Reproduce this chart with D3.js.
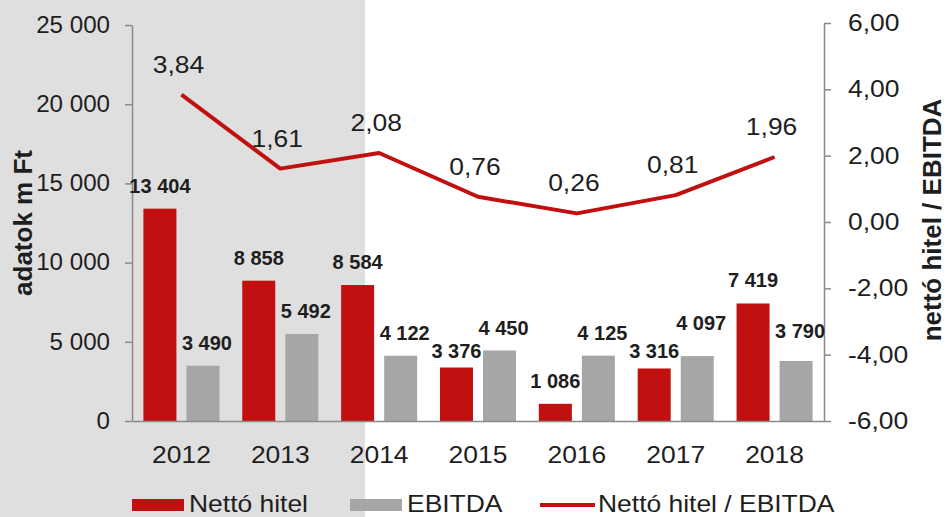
<!DOCTYPE html>
<html>
<head>
<meta charset="utf-8">
<script src="https://cdn.jsdelivr.net/npm/d3@7"></script>
<style>
  body { margin: 0; background: #ffffff; }
  #wrapper { width: 948px; height: 517px; }
  text { font-family: "Liberation Sans", Arial, sans-serif; fill: #1e1e1e; }
</style>
</head>
<body>
<div id="wrapper"></div>
<script>
// data
const years = ["2012", "2013", "2014", "2015", "2016", "2017", "2018"];
const nettoHitel = [13404, 8858, 8584, 3376, 1086, 3316, 7419];
const ebitda = [3490, 5492, 4122, 4450, 4125, 4097, 3790];
const hitelPerEbitda = [3.84, 1.61, 2.08, 0.76, 0.26, 0.81, 1.96];
const leftTicks = [0, 5000, 10000, 15000, 20000, 25000];
const rightTicks = [-6, -4, -2, 0, 2, 4, 6];
const seriesNames = ["Nettó hitel", "EBITDA", "Nettó hitel / EBITDA"];

// small manual nudges of the bar labels, as in the source picture (px)
const redLabelNudge = [0, 0, 0, 6, 0, 6, 0];
const grayLabelNudge = [0, 0, 0, 0, 0, -10, -7];

function drawChart() {

  // 1. formats
  const hu = d3.formatLocale({
    decimal: ",",
    thousands: " ",
    grouping: [3],
    currency: ["", " Ft"],
    minus: "-"
  });
  const fmtThousands = hu.format(",");
  const fmtRatio = hu.format(".2f");

  const redColor = "#c0100f";
  const grayColor = "#a6a6a6";
  const axisColor = "#8a8a8a";
  const stretch = 1.15;

  // 2. dimensions
  let dimensions = {
    width: 948,
    height: 517,
    margin: { top: 25, right: 124, bottom: 96, left: 132 },
  };
  dimensions.boundedWidth = dimensions.width
    - dimensions.margin.left
    - dimensions.margin.right;
  dimensions.boundedHeight = dimensions.height
    - dimensions.margin.top
    - dimensions.margin.bottom;

  // 3. canvas
  const wrapper = d3.select("#wrapper")
    .append("svg")
      .attr("width", dimensions.width)
      .attr("height", dimensions.height);

  // grey panel on the left side
  wrapper.append("rect")
      .attr("x", 0)
      .attr("y", 0)
      .attr("width", 365)
      .attr("height", dimensions.height)
      .attr("fill", "#dfdfdf");

  const bounds = wrapper.append("g")
      .attr("transform", `translate(${dimensions.margin.left},${dimensions.margin.top})`);

  // 4. scales
  const xScale = d3.scaleBand()
    .domain(years)
    .range([0, dimensions.boundedWidth]);

  const subScale = d3.scaleBand()
    .domain(["netto", "ebitda"])
    .range([0, xScale.bandwidth()])
    .paddingInner(0.233)
    .paddingOuter(0.265);

  const yLeft = d3.scaleLinear()
    .domain([0, 25000])
    .range([dimensions.boundedHeight, 0]);

  const yRight = d3.scaleLinear()
    .domain([-6, 6])
    .range([dimensions.boundedHeight, -2]);

  const stretchText = (sel, sx) => sel.each(function () {
    const t = d3.select(this);
    const x = +t.attr("x") || 0;
    const y = +t.attr("y") || 0;
    t.attr("x", 0).attr("y", 0)
      .attr("transform", `translate(${x},${y}) scale(${sx},1)`);
  });

  // 5. bars
  const rows = years.map((year, i) => ({
    year, netto: nettoHitel[i], ebitda: ebitda[i], ratio: hitelPerEbitda[i], i
  }));

  bounds.append("g").selectAll("rect")
    .data(rows)
    .join("rect")
      .attr("x", d => xScale(d.year) + subScale("netto"))
      .attr("y", d => yLeft(d.netto))
      .attr("width", subScale.bandwidth())
      .attr("height", d => yLeft(0) - yLeft(d.netto))
      .attr("fill", redColor);

  bounds.append("g").selectAll("rect")
    .data(rows)
    .join("rect")
      .attr("x", d => xScale(d.year) + subScale("ebitda"))
      .attr("y", d => yLeft(d.ebitda))
      .attr("width", subScale.bandwidth())
      .attr("height", d => yLeft(0) - yLeft(d.ebitda))
      .attr("fill", grayColor);

  // 6. axes
  const yAxisLeft = bounds.append("g")
    .call(d3.axisLeft(yLeft)
      .tickValues(leftTicks)
      .tickSize(7)
      .tickSizeOuter(0)
      .tickPadding(15)
      .tickFormat(fmtThousands));

  const yAxisRight = bounds.append("g")
      .attr("transform", `translate(${dimensions.boundedWidth},0)`)
    .call(d3.axisRight(yRight)
      .tickValues(rightTicks)
      .tickSize(7)
      .tickSizeOuter(0)
      .tickPadding(17)
      .tickFormat(fmtRatio));

  const xAxis = bounds.append("g")
      .attr("transform", `translate(0,${dimensions.boundedHeight})`)
    .call(d3.axisBottom(xScale)
      .tickSize(0)
      .tickSizeOuter(0)
      .tickPadding(26));

  [[yAxisLeft, 1.05], [yAxisRight, stretch], [xAxis, stretch]].forEach(([axis, sx]) => {
    axis.select(".domain").attr("stroke", axisColor).attr("stroke-width", 1.5);
    axis.selectAll(".tick line").attr("stroke", axisColor).attr("stroke-width", 1.5);
    axis.selectAll("text")
      .attr("fill", "#1e1e1e")
      .style("font-size", "23px")
      .call(stretchText, sx);
  });

  // axis titles
  wrapper.append("text")
      .attr("transform", "translate(32,223) rotate(-90)")
      .attr("text-anchor", "middle")
      .style("font-size", "26px")
      .style("font-weight", "bold")
      .text("adatok m Ft");

  wrapper.append("text")
      .attr("transform", "translate(941,220) rotate(-90)")
      .attr("text-anchor", "middle")
      .style("font-size", "26px")
      .style("font-weight", "bold")
      .text("nettó hitel / EBITDA");

  // 7. line
  const lineGenerator = d3.line()
    .x(d => xScale(d.year) + xScale.bandwidth() / 2)
    .y(d => yRight(d.ratio));

  bounds.append("path")
      .datum(rows)
      .attr("d", lineGenerator)
      .attr("fill", "none")
      .attr("stroke", redColor)
      .attr("stroke-width", 4)
      .attr("stroke-linejoin", "round");

  // 8. labels
  bounds.append("g").selectAll("text")
    .data(rows)
    .join("text")
      .attr("x", d => xScale(d.year) + xScale.bandwidth() / 2 - 3)
      .attr("y", d => yRight(d.ratio) - 22)
      .attr("text-anchor", "middle")
      .style("font-size", "23px")
      .text(d => fmtRatio(d.ratio))
      .call(stretchText, stretch);

  bounds.append("g").selectAll("text")
    .data(rows)
    .join("text")
      .attr("x", d => xScale(d.year) + subScale("netto") + subScale.bandwidth() / 2)
      .attr("y", d => yLeft(d.netto) - 16 + redLabelNudge[d.i])
      .attr("text-anchor", "middle")
      .style("font-size", "20px")
      .style("font-weight", "bold")
      .text(d => fmtThousands(d.netto));

  bounds.append("g").selectAll("text")
    .data(rows)
    .join("text")
      .attr("x", d => xScale(d.year) + subScale("ebitda") + subScale.bandwidth() / 2 + 4)
      .attr("y", d => yLeft(d.ebitda) - 16 + grayLabelNudge[d.i])
      .attr("text-anchor", "middle")
      .style("font-size", "20px")
      .style("font-weight", "bold")
      .text(d => fmtThousands(d.ebitda));

  // 9. legend
  const legend = wrapper.append("g");
  const legendItems = [
    { name: seriesNames[0], x: 132, kind: "bar", color: redColor },
    { name: seriesNames[1], x: 350, kind: "bar", color: grayColor },
    { name: seriesNames[2], x: 540, kind: "line", color: redColor },
  ];

  legendItems.forEach(item => {
    if (item.kind === "bar") {
      legend.append("rect")
          .attr("x", item.x)
          .attr("y", 499)
          .attr("width", 52)
          .attr("height", 12)
          .attr("fill", item.color);
    } else {
      legend.append("line")
          .attr("x1", item.x)
          .attr("x2", item.x + 55)
          .attr("y1", 505)
          .attr("y2", 505)
          .attr("stroke", item.color)
          .attr("stroke-width", 4);
    }
    legend.append("text")
        .attr("x", item.x + (item.kind === "bar" ? 57 : 58))
        .attr("y", 512)
        .style("font-size", "23px")
        .text(item.name)
        .call(stretchText, stretch);
  });
}
drawChart();
</script>
</body>
</html>
